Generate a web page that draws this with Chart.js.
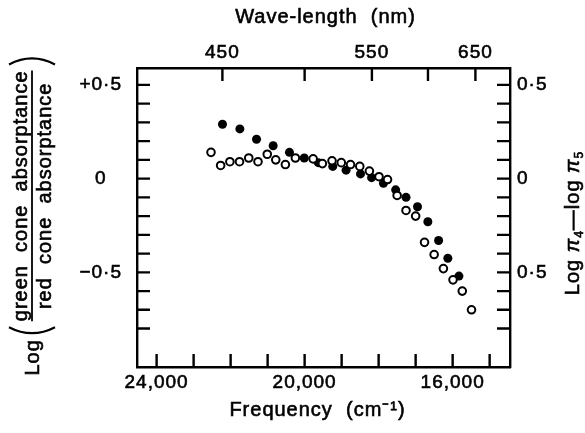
<!DOCTYPE html>
<html>
<head>
<meta charset="utf-8">
<script src="https://cdn.jsdelivr.net/npm/chart.js@4/dist/chart.umd.min.js"></script>
<style>
  body { margin: 0; background: #fff; }
  canvas { display: block; }
</style>
</head>
<body>
<canvas id="chartcanvas" width="585" height="433"></canvas>
<script>
// open circles: log pi4 - log pi5 (frequency in cm-1)
const openFreq = [22530, 22270, 22020, 21760, 21510, 21260, 21010, 20780, 20520, 20250,
  19770, 19520, 19260, 19010, 18760, 18510, 18250, 17990, 17760, 17500,
  17260, 17000, 16760, 16500, 16250, 15990, 15740, 15490];
const openVal = [0.14, 0.07, 0.09, 0.09, 0.11, 0.09, 0.13, 0.10, 0.075, 0.11,
  0.105, 0.08, 0.095, 0.085, 0.075, 0.065, 0.04, 0.01, -0.005, -0.09,
  -0.17, -0.2, -0.34, -0.405, -0.48, -0.54, -0.6, -0.7];

// filled circles: log(green / red cone absorptance)
const filledFreq = [22220, 21750, 21300, 20850, 20410, 20010, 19630, 19240, 18880, 18490,
  18190, 17870, 17540, 17260, 16950, 16670, 16380, 16130, 15830];
const filledVal = [0.29, 0.265, 0.21, 0.175, 0.14, 0.11, 0.085, 0.065, 0.045, 0.025,
  0.005, -0.025, -0.06, -0.1, -0.15, -0.23, -0.33, -0.425, -0.52];

const freqTicks = [15000, 16000, 17000, 18000, 19000, 20000, 21000, 22000, 23000, 24000];
const freqLabels = [24000, 20000, 16000];
const waveTicks = [450, 500, 550, 600, 650];
const waveLabels = [450, 550, 650];
const logTicks = [0.5, 0.4, 0.3, 0.2, 0.1, 0, -0.1, -0.2, -0.3, -0.4, -0.5, -0.6, -0.7, -0.8];
const leftLabels = {'5': '+0·5', '0': '0', '-5': '−0·5'};
const rightLabels = {'5': '0·5', '0': '0', '-5': '0·5'};

const freqMin = 14450, freqMax = 24530;
const logMin = -1.005, logMax = 0.59;

const canvas = document.getElementById('chartcanvas');
const ctx = canvas.getContext('2d');
const family = "'Liberation Sans', Arial, sans-serif";
const font = {family: family, size: 19};
const spacing = '1px';
const ink = 0.6; // scanned type is heavy, thicken it a little

const tenths = (v) => String(Math.round(v * 10));

// tick marks point into the plot on all four sides
const inwardTicks = {
  id: 'inwardTicks',
  beforeLayout(chart) { chart.ctx.letterSpacing = spacing; },
  beforeDraw(chart) { chart.ctx.letterSpacing = spacing; },
  afterDraw(chart) {
    const c = chart.ctx;
    const a = chart.chartArea;
    const len = 13;
    c.save();
    c.strokeStyle = '#000';
    c.lineWidth = 2.4;
    c.beginPath();
    ['x', 'x2', 'y', 'y2'].forEach((id) => {
      const s = chart.scales[id];
      s.ticks.forEach((t) => {
        const p = s.getPixelForValue(t.value);
        if (id === 'x') { c.moveTo(p, a.bottom); c.lineTo(p, a.bottom - len); }
        if (id === 'x2') { c.moveTo(p, a.top); c.lineTo(p, a.top + len); }
        if (id === 'y') { c.moveTo(a.left, p); c.lineTo(a.left + len, p); }
        if (id === 'y2') { c.moveTo(a.right, p); c.lineTo(a.right - len, p); }
      });
    });
    c.stroke();
    c.restore();
  }
};

function inkText(c, txt, x, y) {
  c.fillText(txt, x, y);
  c.strokeText(txt, x, y);
}

function paren(c, u, half, dir) {
  // dir 1 = opening "(" , -1 = closing ")"
  c.beginPath();
  c.moveTo(u + dir * 8, -half);
  c.quadraticCurveTo(u - dir * 4, 0, u + dir * 8, half);
  c.stroke();
}

// axis titles (left one is a fraction)
const axisTitles = {
  id: 'axisTitles',
  afterDraw(chart) {
    const c = chart.ctx;
    const a = chart.chartArea;
    c.save();
    c.fillStyle = '#000';
    c.strokeStyle = '#000';
    c.letterSpacing = spacing;
    c.font = '20px ' + family;
    c.textBaseline = 'middle';
    c.textAlign = 'center';
    c.lineWidth = ink;
    const cx = (a.left + a.right) / 2;
    inkText(c, 'Wave-length  (nm)', cx + 2, 17);
    inkText(c, 'Frequency  (cm⁻¹)', cx - 6, 410);

    c.textBaseline = 'alphabetic';

    // left
    c.save();
    c.translate(32, 216);
    c.rotate(-Math.PI / 2);
    const num = 'green  cone  absorptance';
    const den = 'red  cone  absorptance';
    const wNum = c.measureText(num).width;
    const wDen = c.measureText(den).width;
    const wLog = c.measureText('Log').width;
    const fracW = Math.max(wNum, wDen);
    const total = wLog + 4 + 14 + fracW + 14;
    let u = -total / 2;
    c.textAlign = 'left';
    c.lineWidth = ink;
    inkText(c, 'Log', u, 7);
    u += wLog + 4;
    c.lineWidth = 2.2;
    paren(c, u, 23, 1);
    u += 14;
    const mid = u + fracW / 2;
    c.textAlign = 'center';
    c.lineWidth = ink;
    inkText(c, num, mid, -5);
    inkText(c, den, mid, 19);
    c.lineWidth = 1.8;
    c.beginPath();
    c.moveTo(u, 0);
    c.lineTo(u + fracW, 0);
    c.stroke();
    u += fracW + 14;
    c.lineWidth = 2.2;
    paren(c, u, 23, -1);
    c.restore();

    // right
    c.save();
    c.translate(579, 223);
    c.rotate(-Math.PI / 2);
    c.lineWidth = ink;
    const parts = [
      ['Log ', '20px ' + family, 0],
      ['π', 'italic 20px ' + family, 0],
      ['4', '12px ' + family, 4],
      ['—log ', '20px ' + family, 0],
      ['π', 'italic 20px ' + family, 0],
      ['5', '12px ' + family, 4]
    ];
    let w = 0;
    parts.forEach((p) => { c.font = p[1]; w += c.measureText(p[0]).width; });
    let x = -w / 2;
    c.textAlign = 'left';
    parts.forEach((p) => {
      c.font = p[1];
      inkText(c, p[0], x, p[2]);
      x += c.measureText(p[0]).width;
    });
    c.restore();
    c.restore();
  }
};

const openPoints = openFreq.map((f, i) => ({x: f, y: openVal[i]}));
const filledPoints = filledFreq.map((f, i) => ({x: f, y: filledVal[i]}));

const noGrid = {display: false, drawTicks: false};
const frame = {display: true, color: '#000', width: 2.4};
const tickText = {
  autoSkip: false,
  maxRotation: 0,
  color: '#000',
  font: font,
  textStrokeColor: '#000',
  textStrokeWidth: ink
};

new Chart(ctx, {
  type: 'scatter',
  data: {
    datasets: [{
      label: 'log pi4 - log pi5',
      data: openPoints,
      pointRadius: 3.8,
      pointBackgroundColor: '#fff',
      pointBorderColor: '#000',
      pointBorderWidth: 2,
      xAxisID: 'x',
      yAxisID: 'y'
    }, {
      label: 'log green / red',
      data: filledPoints,
      pointRadius: 4.5,
      pointBackgroundColor: '#000',
      pointBorderColor: '#000',
      pointBorderWidth: 0,
      xAxisID: 'x',
      yAxisID: 'y'
    }]
  },
  options: {
    responsive: false,
    animation: false,
    devicePixelRatio: 1,
    layout: {padding: 0},
    plugins: {
      legend: {display: false},
      tooltip: {enabled: false}
    },
    scales: {
      x: {
        type: 'linear',
        position: 'bottom',
        reverse: true,
        min: freqMin,
        max: freqMax,
        afterBuildTicks: (s) => { s.ticks = freqTicks.map((v) => ({value: v})); },
        afterFit: (s) => { s.height = 66; },
        grid: noGrid,
        border: frame,
        ticks: Object.assign({}, tickText, {
          padding: 4,
          callback: (v) => freqLabels.includes(v) ? v.toLocaleString('en-US') : ''
        })
      },
      x2: {
        type: 'linear',
        position: 'top',
        reverse: true,
        min: freqMin,
        max: freqMax,
        afterBuildTicks: (s) => { s.ticks = waveTicks.map((w) => ({value: 1e7 / w})); },
        afterFit: (s) => { s.height = 68; },
        grid: noGrid,
        border: frame,
        ticks: Object.assign({}, tickText, {
          padding: 4,
          callback: (v, i) => waveLabels.includes(waveTicks[i]) ? String(waveTicks[i]) : ''
        })
      },
      y: {
        type: 'linear',
        position: 'left',
        min: logMin,
        max: logMax,
        afterBuildTicks: (s) => { s.ticks = logTicks.map((v) => ({value: v})); },
        afterFit: (s) => { s.width = 137; },
        grid: noGrid,
        border: frame,
        ticks: Object.assign({}, tickText, {
          crossAlign: 'center',
          padding: 15,
          callback: (v) => leftLabels[tenths(v)] || ''
        })
      },
      y2: {
        type: 'linear',
        position: 'right',
        min: logMin,
        max: logMax,
        afterBuildTicks: (s) => { s.ticks = logTicks.map((v) => ({value: v})); },
        afterFit: (s) => { s.width = 75; },
        grid: noGrid,
        border: frame,
        ticks: Object.assign({}, tickText, {
          padding: 7,
          callback: (v) => rightLabels[tenths(v)] || ''
        })
      }
    }
  },
  plugins: [inwardTicks, axisTitles]
});
</script>
</body>
</html>
